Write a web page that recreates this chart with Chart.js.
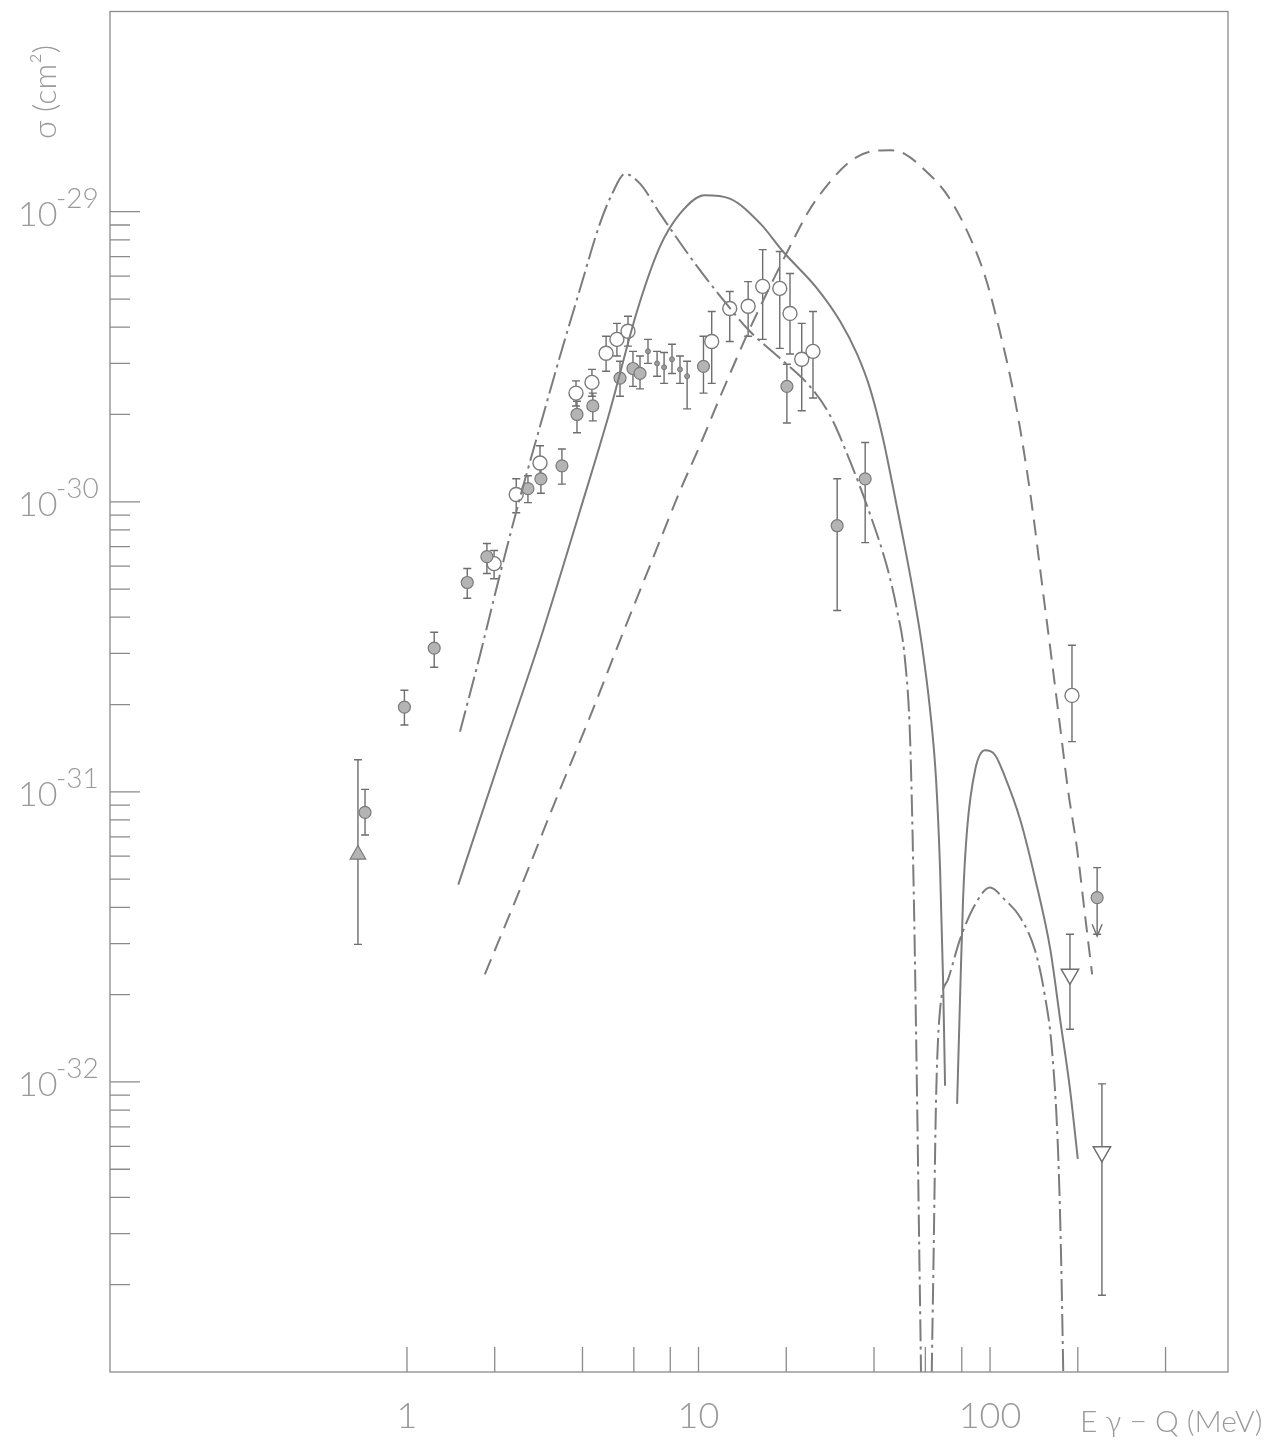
<!DOCTYPE html>
<html>
<head>
<meta charset="utf-8">
<script src="https://cdn.jsdelivr.net/npm/chart.js@4.4.0/dist/chart.umd.min.js"></script>
<style>
  html, body { margin: 0; padding: 0; background: #fff; }
</style>
</head>
<body>
<canvas id="plot" width="1281" height="1447"></canvas>
<script>
// theory curve A (dash-dot)
const curveA_E = [1.52, 1.78, 2.08, 2.44, 2.86, 3.35, 3.92, 4.59, 5.05, 5.60, 6.30, 7.38, 9.35, 11.9, 15.0, 19.0, 24.1, 28.3, 33.1, 38.7, 44.4, 48.0, 51.1, 53.2, 54.8, 56.2, 57.5, 60.3, 63.7, 65.3, 67.4, 71.8, 78.9, 88.9, 100, 112, 127, 143, 154, 163, 171, 175, 179];
const curveA_sig = [1.61e-31, 2.96e-31, 5.57e-31, 1.03e-30, 1.82e-30, 3.18e-30, 5.40e-30, 9.10e-30, 1.15e-29, 1.35e-29, 1.25e-29, 9.85e-30, 7.0e-30, 5.1e-30, 3.87e-30, 3.13e-30, 2.50e-30, 1.98e-30, 1.38e-30, 9.1e-31, 5.93e-31, 4.22e-31, 2.84e-31, 1.51e-31, 4.26e-32, 8.75e-33, 1.80e-33, 1e-34, 1.80e-33, 8.75e-33, 1.78e-32, 2.26e-32, 3.10e-32, 4.09e-32, 4.68e-32, 4.26e-32, 3.69e-32, 2.82e-32, 2.0e-32, 1.30e-32, 5.89e-33, 2.67e-33, 8.1e-34];

// theory curve B (solid), main branch and second bump
const curveB_E = [1.50, 2.08, 2.86, 3.92, 4.97, 6.15, 7.38, 8.64, 10.5, 12.8, 16.3, 19.5, 25.5, 30.6, 35.0, 38.7, 42.9, 46.5, 50.3, 54.4, 58.4, 62.3, 65.3, 67.4, 69.0, 70.1];
const curveB_sig = [4.79e-32, 1.29e-31, 3.33e-31, 9.3e-31, 2.06e-30, 4.53e-30, 7.59e-30, 9.85e-30, 1.14e-29, 1.11e-29, 9.1e-30, 7.29e-30, 5.44e-30, 4.19e-30, 3.23e-30, 2.47e-30, 1.66e-30, 1.12e-30, 7.52e-31, 4.94e-31, 3.20e-31, 1.91e-31, 1.10e-31, 5.40e-32, 2.26e-32, 9.7e-33];
const curveB2_E = [77.1, 78.9, 80.8, 83.4, 88.9, 96.2, 104, 112, 127, 143, 161, 174, 188, 200];
const curveB2_sig = [8.4e-33, 1.93e-32, 4.26e-32, 7.40e-32, 1.19e-31, 1.39e-31, 1.34e-31, 1.14e-31, 8.0e-32, 4.99e-32, 2.86e-32, 1.64e-32, 9.46e-33, 5.43e-33];

// theory curve C (dashed)
const curveC_E = [1.85, 2.44, 3.35, 4.24, 5.38, 6.82, 8.64, 10.1, 12.1, 14.7, 17.6, 20.6, 24.1, 28.3, 33.1, 38.7, 45.4, 51.1, 59.8, 70.1, 82.1, 96.2, 108, 122, 137, 154, 164, 174, 185, 199, 212, 224];
const curveC_sig = [2.35e-32, 4.60e-32, 1.02e-31, 1.81e-31, 3.33e-31, 6.03e-31, 1.09e-30, 1.56e-30, 2.41e-30, 3.78e-30, 5.53e-30, 7.59e-30, 1.02e-29, 1.27e-29, 1.49e-29, 1.61e-29, 1.63e-29, 1.58e-29, 1.39e-29, 1.17e-29, 8.88e-30, 5.98e-30, 3.87e-30, 2.22e-30, 1.09e-30, 4.40e-31, 2.69e-31, 1.67e-31, 1.02e-31, 6.32e-32, 3.72e-32, 2.35e-32];

// measured points: filled circles
const filledE = [0.718, 0.98, 1.24, 1.61, 1.88, 2.60, 2.88, 3.40, 3.83, 4.34, 5.38, 5.96, 6.30, 10.4, 20.1, 29.9, 37.3];
const filledSig = [8.5e-32, 1.96e-31, 3.13e-31, 5.27e-31, 6.47e-31, 1.11e-30, 1.20e-30, 1.33e-30, 2.00e-30, 2.14e-30, 2.67e-30, 2.88e-30, 2.77e-30, 2.93e-30, 2.50e-30, 8.27e-31, 1.20e-30];
const filledLo = [7.1e-32, 1.70e-31, 2.69e-31, 4.65e-31, 5.66e-31, 9.93e-31, 1.07e-30, 1.15e-30, 1.73e-30, 1.90e-30, 2.31e-30, 2.50e-30, 2.45e-30, 2.37e-30, 1.87e-30, 4.22e-31, 7.23e-31];
const filledHi = [1.02e-31, 2.24e-31, 3.55e-31, 5.89e-31, 7.18e-31, 1.23e-30, 1.33e-30, 1.52e-30, 2.22e-30, 2.37e-30, 3.05e-30, 3.30e-30, 3.18e-30, 3.72e-30, 2.98e-30, 1.20e-30, 1.60e-30];

// open circles
const openE = [1.99, 2.37, 2.86, 3.80, 4.31, 4.82, 5.25, 5.73, 11.1, 12.8, 14.8, 16.6, 19.0, 20.6, 22.6, 24.7, 191];
const openSig = [6.12e-31, 1.06e-30, 1.36e-30, 2.37e-30, 2.58e-30, 3.25e-30, 3.63e-30, 3.87e-30, 3.57e-30, 4.64e-30, 4.72e-30, 5.53e-30, 5.44e-30, 4.46e-30, 3.10e-30, 3.30e-30, 2.15e-31];
const openLo = [5.43e-31, 9.17e-31, 1.20e-30, 2.14e-30, 2.31e-30, 2.82e-30, 3.18e-30, 3.44e-30, 2.56e-30, 3.57e-30, 3.72e-30, 3.63e-30, 3.38e-30, 3.23e-30, 2.06e-30, 2.28e-30, 1.49e-31];
const openHi = [6.79e-31, 1.20e-30, 1.56e-30, 2.61e-30, 2.86e-30, 3.72e-30, 4.12e-30, 4.36e-30, 4.53e-30, 5.31e-30, 5.74e-30, 7.40e-30, 7.29e-30, 6.12e-30, 4.12e-30, 4.53e-30, 3.20e-31];

// small bar points in the 6-9 MeV group
const smallE = [6.71, 7.21, 7.62, 8.11, 8.64, 9.14];
const smallSig = [3.30e-30, 3.0e-30, 2.91e-30, 3.10e-30, 2.86e-30, 2.71e-30];
const smallLo = [3.0e-30, 2.71e-30, 2.56e-30, 2.77e-30, 2.56e-30, 2.09e-30];
const smallHi = [3.63e-30, 3.30e-30, 3.27e-30, 3.49e-30, 3.18e-30, 3.05e-30];

// filled triangle, open triangles (down), upper limit
const triE = [0.679], triSig = [6.08e-32], triLo = [2.98e-32], triHi = [1.29e-31];
const triDownE = [188, 242], triDownSig = [2.35e-32, 5.74e-33], triDownLo = [1.52e-32, 1.84e-33], triDownHi = [3.23e-32, 9.85e-33];
const limE = [233], limSig = [4.32e-32], limLo = [3.23e-32], limHi = [5.48e-32];
const crossE = [10.4, 29.9, 191], crossSig = [2.93e-30, 8.27e-31, 2.15e-31];

// axes
const xTicks = [1, 2, 4, 6, 8, 10, 20, 40, 60, 80, 100, 200, 400];
const xLabels = [[1, '1'], [10, '10'], [100, '100']];
const yMajor = [1e-29, 1e-30, 1e-31, 1e-32];
const yMajorExp = ['-29', '-30', '-31', '-32'];
const yDecades = [1e-33, 1e-32, 1e-31, 1e-30];
const yMinorSteps = [2, 3, 4, 5, 6, 7, 8, 9];

const pts = (xs, ys) => xs.map((v, i) => ({x: v, y: ys[i]}));
const ink = '#7c7c7c';

const curve = (xs, ys, dash) => ({
    data: pts(xs, ys),
    showLine: true,
    pointRadius: 0,
    borderColor: ink,
    borderWidth: 2,
    borderDash: dash,
    cubicInterpolationMode: 'monotone'
});

const errorGroups = [
    [filledE, filledLo, filledHi],
    [openE, openLo, openHi],
    [smallE, smallLo, smallHi],
    [triE, triLo, triHi],
    [triDownE, triDownLo, triDownHi],
    [limE, limLo, limHi]
];

const errorBars = {
    id: 'errorBars',
    beforeDatasetsDraw(chart) {
        const {ctx, scales: {x, y}} = chart;
        ctx.save();
        ctx.strokeStyle = '#6e6e6e';
        ctx.lineWidth = 1.4;
        errorGroups.forEach(([es, lo, hi]) => {
            es.forEach((e, i) => {
                const px = x.getPixelForValue(e);
                const p1 = y.getPixelForValue(hi[i]);
                const p2 = y.getPixelForValue(lo[i]);
                ctx.beginPath();
                ctx.moveTo(px, p1); ctx.lineTo(px, p2);
                ctx.moveTo(px - 4, p1); ctx.lineTo(px + 4, p1);
                ctx.moveTo(px - 4, p2); ctx.lineTo(px + 4, p2);
                ctx.stroke();
            });
        });
        // arrow head on the upper limit
        limE.forEach((e, i) => {
            const px = x.getPixelForValue(e);
            const py = y.getPixelForValue(limLo[i]);
            ctx.beginPath();
            ctx.moveTo(px - 5, py - 10); ctx.lineTo(px, py + 2); ctx.lineTo(px + 5, py - 10);
            ctx.stroke();
        });
        ctx.restore();
    }
};

const frame = {
    id: 'frame',
    afterDraw(chart) {
        const {ctx, chartArea: a, scales: {x, y}} = chart;
        ctx.save();
        ctx.strokeStyle = '#8a8a8a';
        ctx.lineWidth = 1.3;
        ctx.strokeRect(a.left, a.top, a.right - a.left, a.bottom - a.top);
        ctx.beginPath();
        xTicks.forEach(v => {
            const px = x.getPixelForValue(v);
            ctx.moveTo(px, a.bottom); ctx.lineTo(px, a.bottom - 25);
        });
        yMajor.forEach(v => {
            const py = y.getPixelForValue(v);
            ctx.moveTo(a.left, py); ctx.lineTo(a.left + 30, py);
        });
        yDecades.forEach(d => yMinorSteps.forEach(m => {
            const py = y.getPixelForValue(m * d);
            ctx.moveTo(a.left, py); ctx.lineTo(a.left + 20, py);
        }));
        ctx.stroke();

        ctx.fillStyle = '#9a9a9a';
        ctx.textBaseline = 'alphabetic';
        ctx.textAlign = 'center';
        ctx.font = '300 36px Lato, "Liberation Sans", sans-serif';
        xLabels.forEach(([v, t]) => {
            ctx.fillText(t, x.getPixelForValue(v), a.bottom + 56);
        });
        yMajor.forEach((v, i) => {
            const py = y.getPixelForValue(v);
            ctx.textAlign = 'left';
            ctx.font = '300 34px Lato, "Liberation Sans", sans-serif';
            ctx.fillText('10', 18, py + 14);
            ctx.font = '300 28px Lato, "Liberation Sans", sans-serif';
            ctx.fillText(yMajorExp[i], 56, py - 4);
        });
        ctx.font = '300 30px Lato, "Liberation Sans", sans-serif';
        ctx.textAlign = 'left';
        ctx.fillText('E γ − Q (MeV)', 1080, a.bottom + 60);
        ctx.translate(56, 92);
        ctx.rotate(-Math.PI / 2);
        ctx.textAlign = 'center';
        ctx.font = '300 32px Lato, "Liberation Sans", sans-serif';
        ctx.fillText('σ (cm²)', 0, 0);
        ctx.restore();
    }
};

new Chart(document.getElementById('plot').getContext('2d'), {
    type: 'scatter',
    data: {
        datasets: [
            curve(curveA_E, curveA_sig, [22, 5, 3, 5]),
            curve(curveB_E, curveB_sig, []),
            curve(curveB2_E, curveB2_sig, []),
            curve(curveC_E, curveC_sig, [16, 9]),
            {data: pts(filledE, filledSig), pointRadius: 6, backgroundColor: '#b4b4b4', borderColor: '#7a7a7a', borderWidth: 1.2},
            {data: pts(openE, openSig), pointRadius: 7, backgroundColor: '#ffffff', borderColor: '#7a7a7a', borderWidth: 1.4},
            {data: pts(smallE, smallSig), pointRadius: 2.5, backgroundColor: '#999', borderColor: '#7a7a7a', borderWidth: 1},
            {data: pts(triE, triSig), pointStyle: 'triangle', pointRadius: 9, backgroundColor: '#b4b4b4', borderColor: '#7a7a7a', borderWidth: 1.2},
            {data: pts(triDownE, triDownSig), pointStyle: 'triangle', pointRotation: 180, pointRadius: 10, backgroundColor: '#ffffff', borderColor: '#6e6e6e', borderWidth: 1.5},
            {data: pts(limE, limSig), pointRadius: 6, backgroundColor: '#b4b4b4', borderColor: '#7a7a7a', borderWidth: 1.2},
            {data: pts(crossE, crossSig), pointStyle: 'crossRot', pointRadius: 5, borderColor: '#6e6e6e', borderWidth: 1.2}
        ]
    },
    options: {
        responsive: false,
        animation: false,
        layout: {padding: {left: 110, right: 53, top: 9, bottom: 75}},
        plugins: {legend: {display: false}, tooltip: {enabled: false}},
        scales: {
            x: {type: 'logarithmic', min: 0.0958, max: 655, display: false},
            y: {type: 'logarithmic', min: 1.0e-33, max: 4.9e-29, display: false}
        }
    },
    plugins: [errorBars, frame]
});
</script>
</body>
</html>
